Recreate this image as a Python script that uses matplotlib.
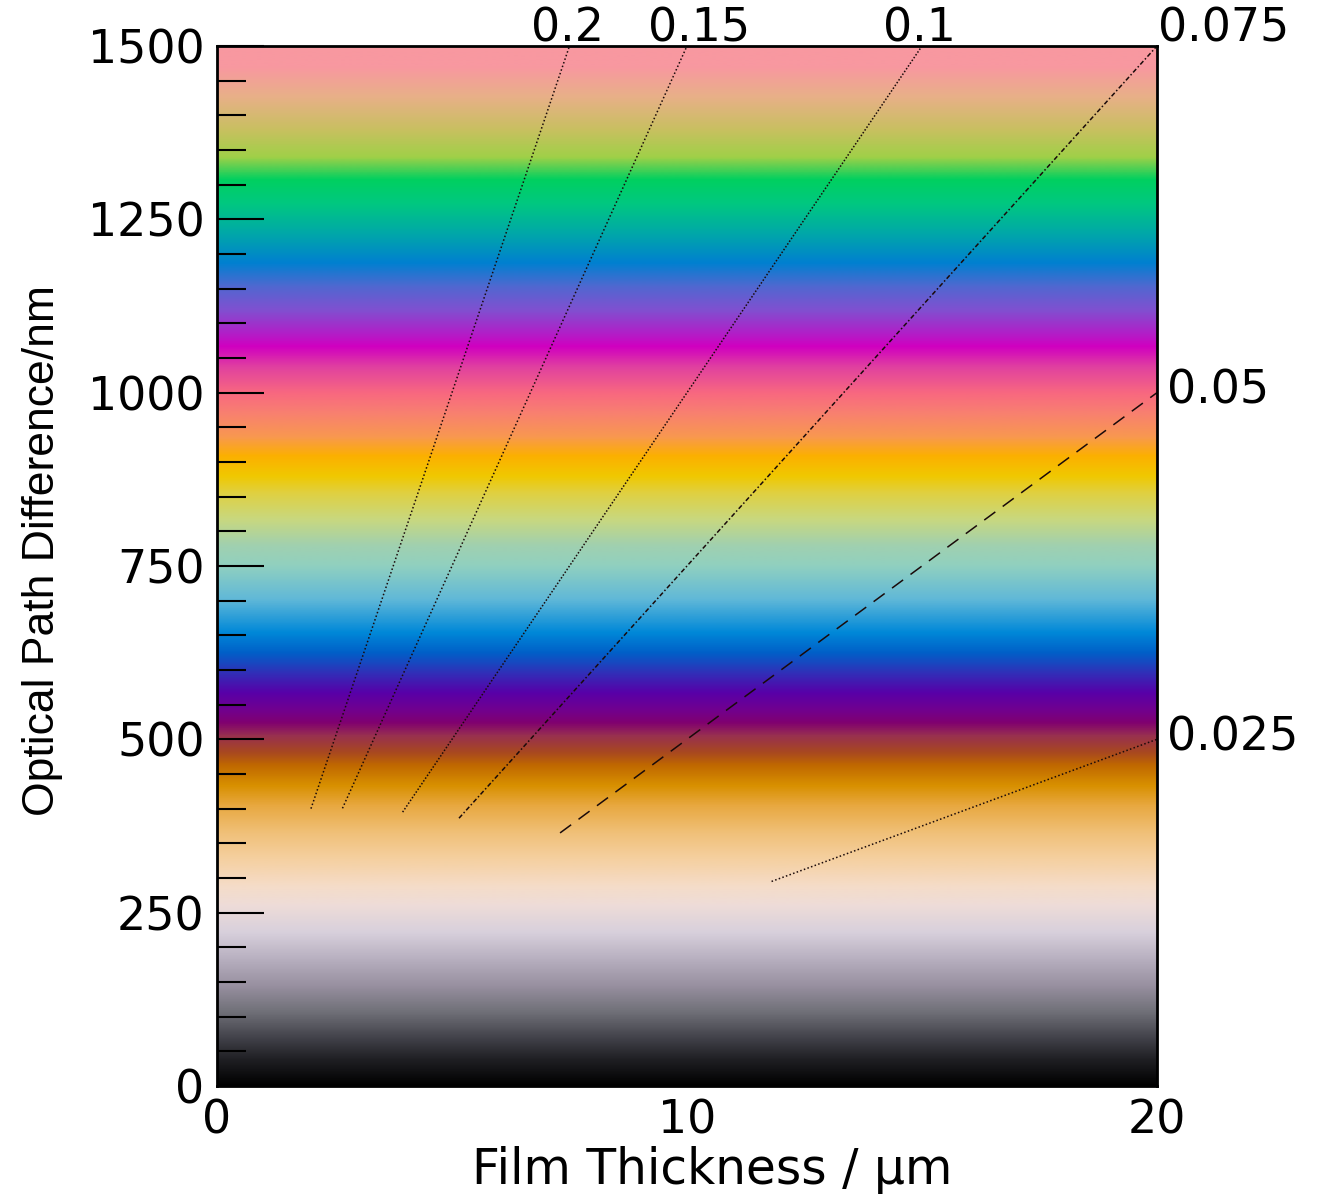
"""Interference colour chart: optical path difference vs film thickness,
with birefringence guide lines drawn over the colour gradient."""

import matplotlib

matplotlib.use("Agg")

import matplotlib.pyplot as plt
import numpy as np
from matplotlib.colors import LinearSegmentedColormap
from matplotlib.ticker import MultipleLocator

# Interference colour: (OPD in nm, colour)
COLOR_OPD = [0, 38, 67, 106, 144, 183, 221, 260, 288, 327, 365, 404, 433,
             462, 481, 505, 524, 543, 567, 596, 625, 654, 702, 750, 779,
             817, 856, 880, 909, 937, 971, 1000, 1038, 1067, 1087, 1120,
             1154, 1188, 1231, 1274, 1308, 1341, 1380, 1428, 1471, 1500]
COLOR_HEX = ["#000000", "#202024", "#404048", "#707078", "#9890a0",
             "#b8b0c0", "#d8d0dc", "#eedcd8", "#f5dcc8", "#f5d0a0",
             "#f0c078", "#e8a840", "#d89000", "#c06800", "#a84820",
             "#983050", "#800070", "#700090", "#5800a8", "#3030b8",
             "#0060c8", "#0088d8", "#60b8d8", "#90d0c0", "#a0d0b0",
             "#c8d880", "#e0d040", "#f0c800", "#fcb000", "#f89850",
             "#f88070", "#f86880", "#e040a0", "#d000c0", "#b020c8",
             "#8050d0", "#5068d0", "#0080d0", "#00a8a8", "#00c880",
             "#00d060", "#a0d048", "#c8c060", "#e8b088", "#f898a0",
             "#f898a0"]

# Birefringence guide lines
BIREF = [0.2, 0.15, 0.1, 0.075, 0.05, 0.025]
BIREF_LABELS = ["0.2", "0.15", "0.1", "0.075", "0.05", "0.025"]
START_THICKNESS = [2.0, 2.67, 3.95, 5.15, 7.3, 11.8]  # µm, where each line begins
LINE_DASHES = [(0, (1, 1.5)), (0, (1, 1.5)), (0, (1, 1.2)),
               (0, (3, 1.5, 1, 1.5)), (0, (9, 6)), (0, (1, 1.5))]

X_MAX = 20
Y_MAX = 1500

TICK_FONT = 33

fig = plt.figure(figsize=(13.23, 11.96), dpi=100)
ax = fig.add_axes([0.164, 0.092, 0.7105, 0.8695])

# Colour gradient background (depends on OPD only).
stops = [(v / Y_MAX, c) for v, c in zip(COLOR_OPD, COLOR_HEX)]
cmap = LinearSegmentedColormap.from_list("michel_levy", stops, N=1024)
opd = np.linspace(0, Y_MAX, 1500).reshape(-1, 1)
ax.imshow(opd, cmap=cmap, vmin=0, vmax=Y_MAX, origin="lower",
          extent=(0, X_MAX, 0, Y_MAX), aspect="auto", interpolation="bilinear",
          zorder=0)

# Guide lines: OPD (nm) = birefringence * thickness (µm) * 1000
for b, lab, t0, ls in zip(BIREF, BIREF_LABELS, START_THICKNESS, LINE_DASHES):
    t_top = Y_MAX / (b * 1000)
    t_end = min(X_MAX, t_top)
    t = np.array([t0, t_end])
    ax.plot(t, b * 1000 * t, color="#1a0a0a", linewidth=1.1, linestyle=ls,
            zorder=2)
    if t_top < X_MAX:
        # label above the top edge, decimal point on the line
        ax.annotate(lab, (t_end, Y_MAX), xytext=(-28, 3),
                    textcoords="offset points", ha="left", va="baseline",
                    fontsize=TICK_FONT, annotation_clip=False)
    elif t_top == X_MAX:
        ax.annotate(lab, (t_end, Y_MAX), xytext=(1, 3),
                    textcoords="offset points", ha="left", va="baseline",
                    fontsize=TICK_FONT, annotation_clip=False)
    else:
        ax.annotate(lab, (t_end, b * 1000 * t_end), xytext=(7, 1),
                    textcoords="offset points", ha="left", va="center",
                    fontsize=TICK_FONT, annotation_clip=False)

ax.set_xlim(0, X_MAX)
ax.set_ylim(0, Y_MAX)

ax.xaxis.set_major_locator(MultipleLocator(10))
ax.yaxis.set_major_locator(MultipleLocator(250))
ax.yaxis.set_minor_locator(MultipleLocator(50))

ax.tick_params(axis="y", which="major", direction="in", length=34, width=1.5,
               pad=9, labelsize=TICK_FONT)
ax.tick_params(axis="y", which="minor", direction="in", length=21, width=1.5)
ax.tick_params(axis="x", which="major", length=0, pad=9, labelsize=TICK_FONT)

for side in ax.spines:
    ax.spines[side].set_linewidth(2)
    ax.spines[side].set_color("black")
    ax.spines[side].set_zorder(5)

ax.set_xlabel("Film Thickness / µm", fontsize=35, va="center")
ax.xaxis.set_label_coords(0.527, -0.081)
ax.set_ylabel("Optical Path Difference/nm", fontsize=32, va="center",
              family="Liberation Sans")
ax.yaxis.set_label_coords(-0.186, 0.515)

fig.savefig("out.png", dpi=100)
